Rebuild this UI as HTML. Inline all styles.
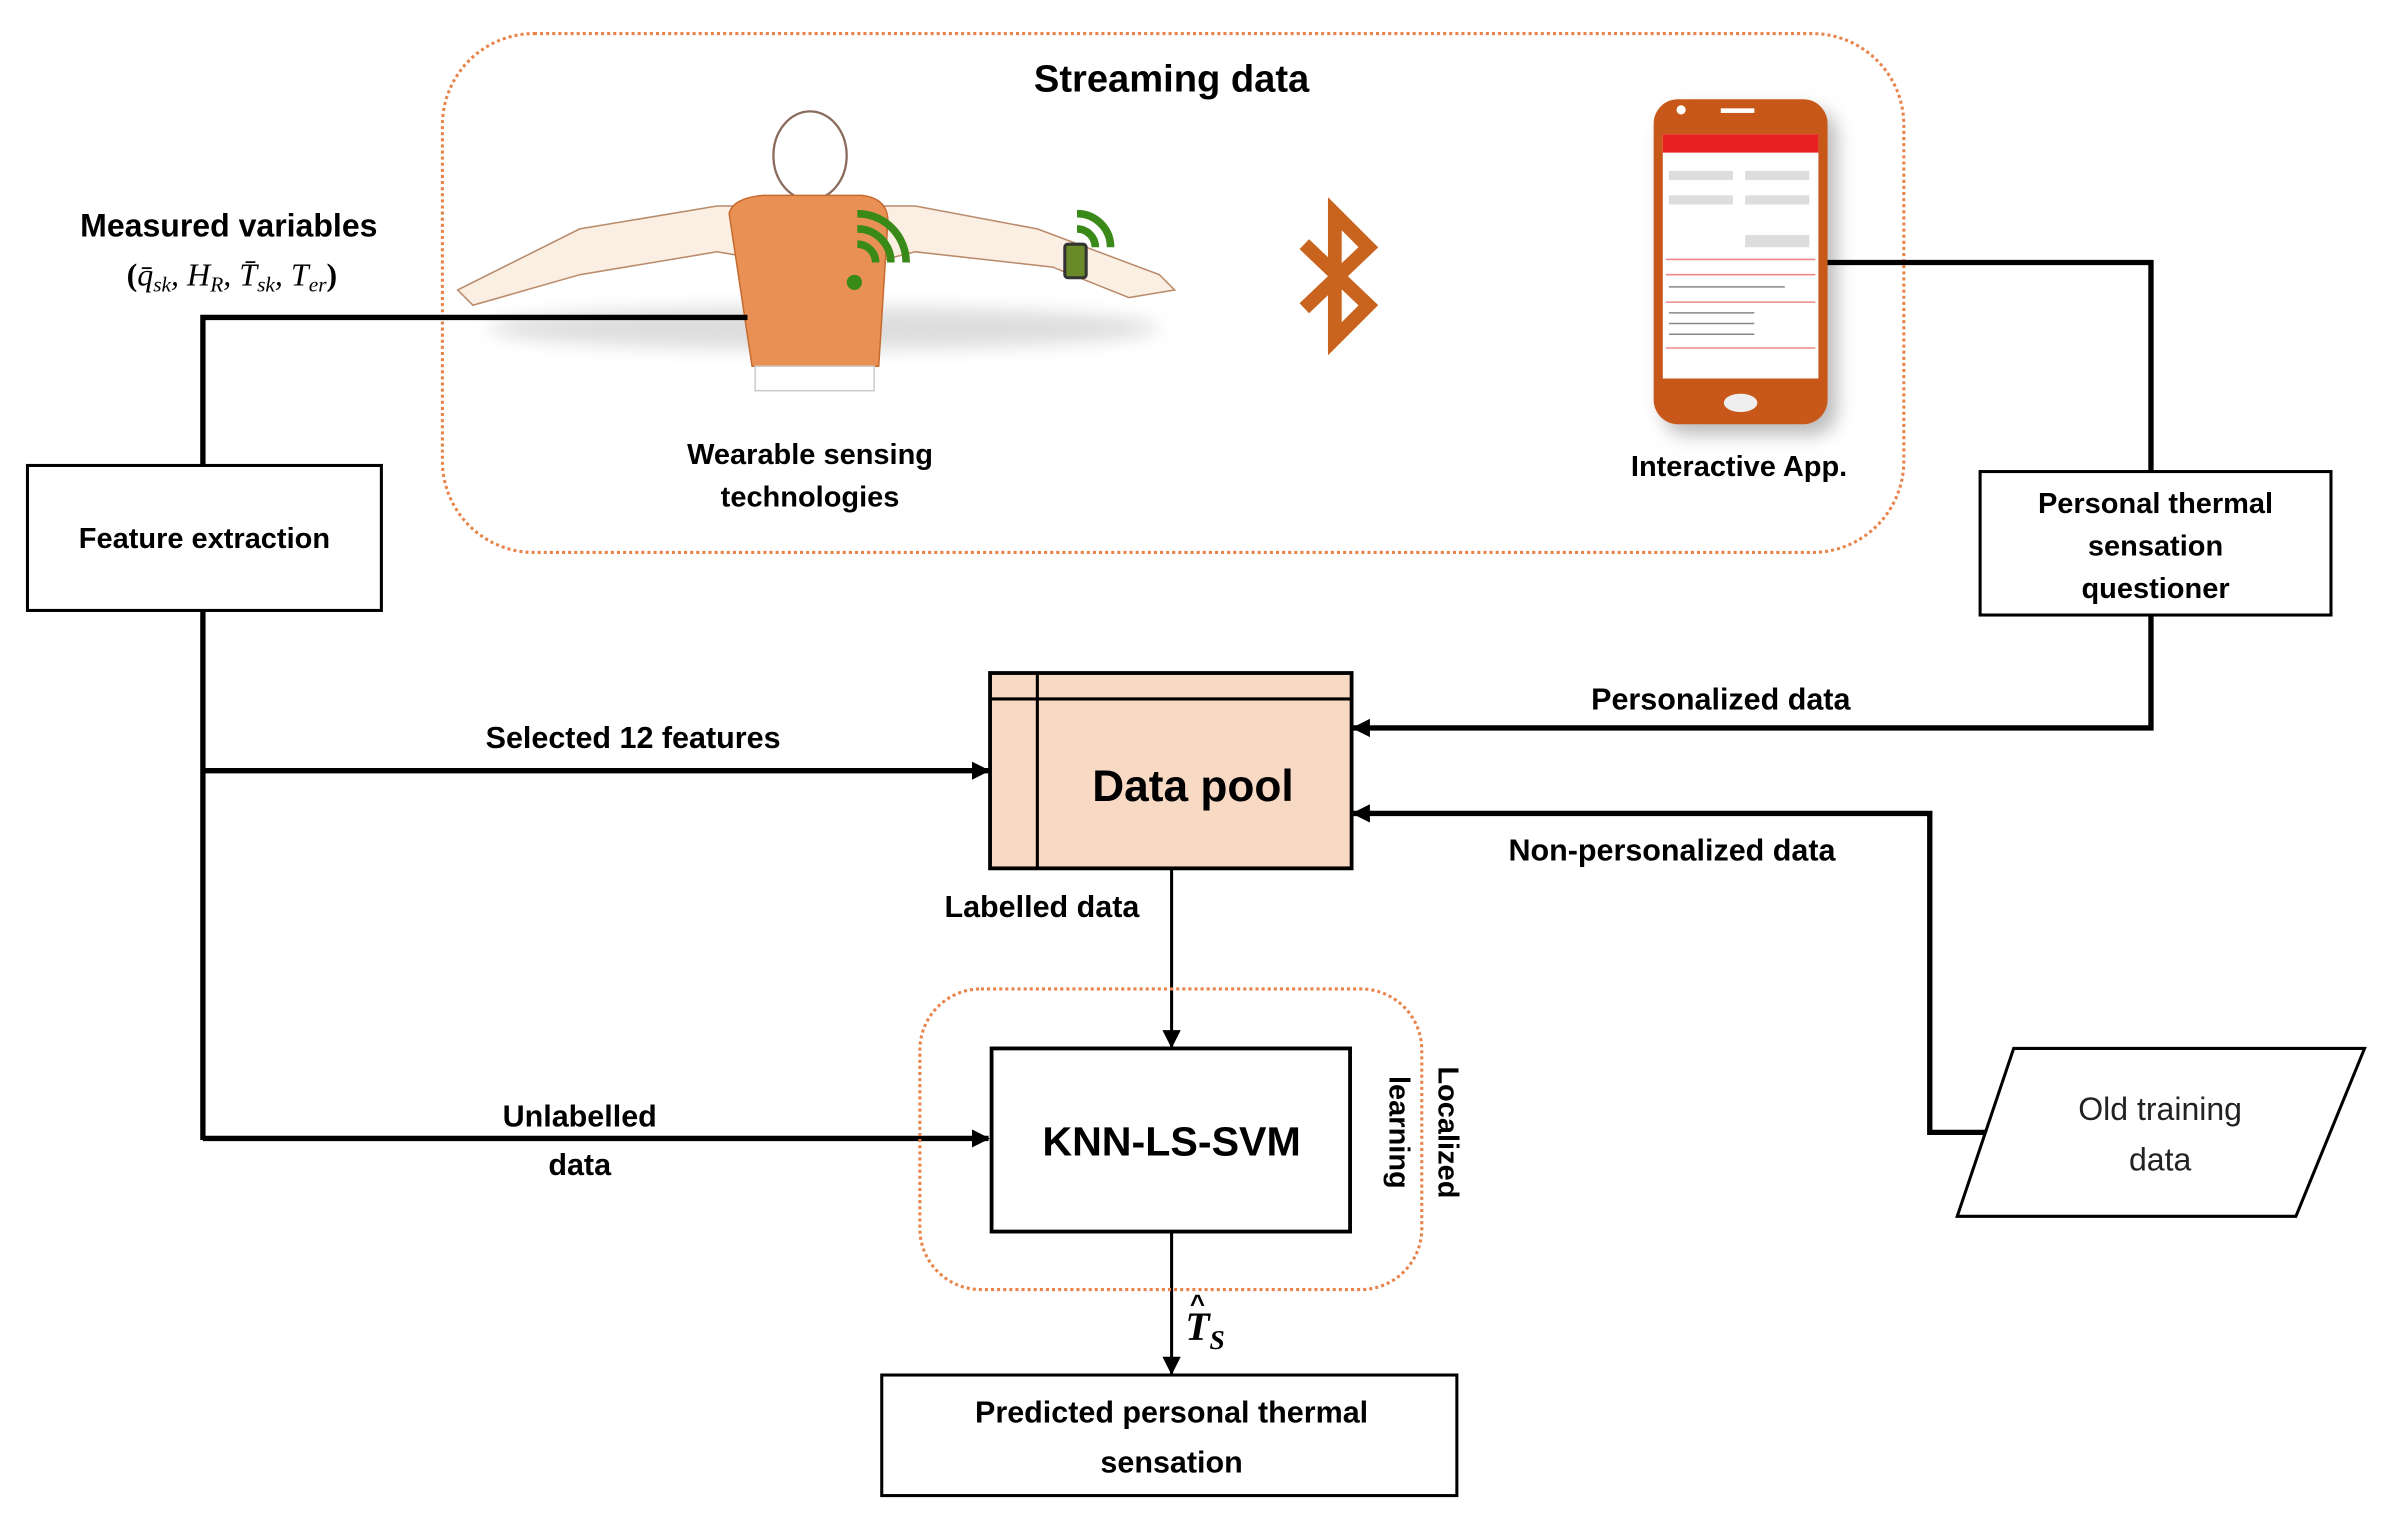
<!DOCTYPE html>
<html><head><meta charset="utf-8"><style>html,body{margin:0;padding:0;background:#fff}svg{display:block}</style></head>
<body>
<svg width="2392" height="1520" viewBox="0 0 1568 996" preserveAspectRatio="none" xmlns="http://www.w3.org/2000/svg" font-family="Liberation Sans, sans-serif">
<defs>
<marker id="ah" markerWidth="12" markerHeight="12" refX="11" refY="6" orient="auto" markerUnits="userSpaceOnUse"><path d="M0,0 L12,6 L0,12 Z" fill="#000"/></marker>
<filter id="sh" x="-30%" y="-30%" width="160%" height="160%"><feGaussianBlur stdDeviation="6"/></filter>
</defs>
<rect width="1568" height="996" fill="#fff"/>
<rect x="290" y="22" width="958" height="340" rx="60" fill="none" stroke="#e8834a" stroke-width="2" stroke-dasharray="2,2"/>
<text x="768" y="60" font-size="25" font-weight="bold" text-anchor="middle">Streaming data</text>
<g>
<ellipse cx="540" cy="215" rx="220" ry="14" fill="#ddd" filter="url(#sh)"/>
<path d="M300,190 L380,150 L470,135 L490,135 L580,135 L600,135 L680,150 L760,180 L770,190 L740,195 L690,175 L600,165 L580,170 L500,170 L470,165 L380,180 L310,200 Z" fill="#fbeee2" stroke="#b98a6a" stroke-width="1"/>
<ellipse cx="531" cy="102" rx="24" ry="29" fill="#fff" stroke="#8a6a5a" stroke-width="1.5"/>
<path d="M478,140 Q480,130 500,128 L565,128 Q582,130 582,145 L576,240 L493,240 Z" fill="#e99155" stroke="#c66b30"/>
<rect x="495" y="240" width="78" height="16" fill="#fff" stroke="#ccc"/>
<path d="M560,180 a5,5 0 1 0 0.1,0" fill="#3a8a1a"/>
<path d="M566,168 a12,12 0 0 1 12,12 M566,158 a22,22 0 0 1 22,22 M566,148 a32,32 0 0 1 32,32" fill="none" stroke="#3a8a1a" stroke-width="5" transform="translate(-4,-8)"/>
<rect x="698" y="160" width="14" height="22" rx="2" fill="#6a8a2a" stroke="#333" stroke-width="2"/>
<path d="M706,150 a12,12 0 0 1 12,12 M706,140 a22,22 0 0 1 22,22" fill="none" stroke="#3a8a1a" stroke-width="5"/>
</g>
<text x="531" y="304" font-size="19" font-weight="bold" text-anchor="middle">Wearable sensing</text>
<text x="531" y="332" font-size="19" font-weight="bold" text-anchor="middle">technologies</text>
<path d="M855,160 L897,200 L875,222 L875,140 L897,162 L855,202" fill="none" stroke="#c8641e" stroke-width="9" stroke-linejoin="miter"/>
<rect x="1090" y="72" width="114" height="213" rx="16" fill="#bbb" filter="url(#sh)"/>
<rect x="1084" y="65" width="114" height="213" rx="16" fill="#c8581a"/>
<rect x="1090" y="88" width="102" height="160" fill="#fff"/>
<rect x="1090" y="88" width="102" height="12" fill="#e82020"/>
<g fill="#ddd"><rect x="1094" y="112" width="42" height="6"/><rect x="1144" y="112" width="42" height="6"/><rect x="1094" y="128" width="42" height="6"/><rect x="1144" y="128" width="42" height="6"/><rect x="1144" y="154" width="42" height="8"/></g>
<g stroke="#e88" stroke-width="1"><line x1="1092" y1="170" x2="1190" y2="170"/><line x1="1092" y1="180" x2="1190" y2="180"/><line x1="1092" y1="198" x2="1190" y2="198"/><line x1="1092" y1="228" x2="1190" y2="228"/></g>
<g stroke="#888" stroke-width="1"><line x1="1094" y1="188" x2="1170" y2="188"/><line x1="1094" y1="205" x2="1150" y2="205"/><line x1="1094" y1="212" x2="1150" y2="212"/><line x1="1094" y1="219" x2="1150" y2="219"/></g>
<ellipse cx="1141" cy="264" rx="11" ry="6" fill="#eee"/>
<circle cx="1102" cy="72" r="3" fill="#fff"/><rect x="1128" y="71" width="22" height="3" fill="#fff"/>
<text x="1140" y="312" font-size="19" font-weight="bold" text-anchor="middle">Interactive App.</text>
<text x="150" y="155" font-size="21" font-weight="bold" text-anchor="middle">Measured variables</text>
<text x="152" y="187" font-size="21" font-family="Liberation Serif, serif" font-style="italic" text-anchor="middle"><tspan font-weight="bold" font-style="normal">(</tspan>q̄<tspan font-size="14" dy="4">sk</tspan><tspan dy="-4">, H</tspan><tspan font-size="14" dy="4">R</tspan><tspan dy="-4">, T̄</tspan><tspan font-size="14" dy="4">sk</tspan><tspan dy="-4">, T</tspan><tspan font-size="14" dy="4">er</tspan><tspan dy="-4" font-weight="bold" font-style="normal">)</tspan></text>
<g stroke="#000" stroke-width="3.5" fill="none">
<polyline points="133,305 133,208 490,208"/>
<line x1="133" y1="400" x2="133" y2="747"/>
<line x1="133" y1="505" x2="648" y2="505" marker-end="url(#ah)"/>
<line x1="133" y1="746" x2="648" y2="746" marker-end="url(#ah)"/>
<polyline points="1198,172 1410,172 1410,309"/>
<polyline points="1410,403 1410,477 887,477" marker-end="url(#ah)"/>
<polyline points="1312,742 1265,742 1265,533 887,533" marker-end="url(#ah)"/>
</g>
<g stroke="#000" stroke-width="2" fill="none">
<line x1="768" y1="569" x2="768" y2="686" marker-end="url(#ah)"/>
<line x1="768" y1="807" x2="768" y2="900" marker-end="url(#ah)"/>
</g>
<rect x="18" y="305" width="232" height="95" fill="#fff" stroke="#000" stroke-width="2"/>
<text x="134" y="359" font-size="19" font-weight="bold" text-anchor="middle">Feature extraction</text>
<rect x="1298" y="309" width="230" height="94" fill="#fff" stroke="#000" stroke-width="2"/>
<text x="1413" y="336" font-size="19" font-weight="bold" text-anchor="middle">Personal thermal</text>
<text x="1413" y="364" font-size="19" font-weight="bold" text-anchor="middle">sensation</text>
<text x="1413" y="392" font-size="19" font-weight="bold" text-anchor="middle">questioner</text>
<rect x="649" y="441" width="237" height="128" fill="#f8d9c4" stroke="#000" stroke-width="2.5"/>
<line x1="680" y1="441" x2="680" y2="569" stroke="#000" stroke-width="2"/>
<line x1="649" y1="458" x2="886" y2="458" stroke="#000" stroke-width="2"/>
<text x="782" y="525" font-size="29" font-weight="bold" text-anchor="middle">Data pool</text>
<text x="415" y="490" font-size="20" font-weight="bold" text-anchor="middle">Selected 12 features</text>
<text x="1128" y="465" font-size="20" font-weight="bold" text-anchor="middle">Personalized data</text>
<text x="1096" y="564" font-size="20" font-weight="bold" text-anchor="middle">Non-personalized  data</text>
<text x="683" y="601" font-size="20" font-weight="bold" text-anchor="middle">Labelled data</text>
<polygon points="1320,687 1550,687 1505,797 1283,797" fill="#fff" stroke="#000" stroke-width="2"/>
<text x="1416" y="734" font-size="21" text-anchor="middle" fill="#222">Old training</text>
<text x="1416" y="767" font-size="21" text-anchor="middle" fill="#222">data</text>
<rect x="603" y="648" width="329" height="197" rx="40" fill="none" stroke="#e8834a" stroke-width="2" stroke-dasharray="2,2"/>
<rect x="650" y="687" width="235" height="120" fill="#fff" stroke="#000" stroke-width="2.5"/>
<text x="768" y="757" font-size="27" font-weight="bold" text-anchor="middle">KNN-LS-SVM</text>
<text transform="translate(943,742) rotate(90)" font-size="19" font-weight="bold" text-anchor="middle">Localized</text>
<text transform="translate(911,742) rotate(90)" font-size="19" font-weight="bold" text-anchor="middle">learning</text>
<text x="380" y="738" font-size="20" font-weight="bold" text-anchor="middle">Unlabelled</text>
<text x="380" y="770" font-size="20" font-weight="bold" text-anchor="middle">data</text>
<text x="777" y="878" font-size="26" font-weight="bold" font-style="italic" font-family="Liberation Serif, serif">T<tspan font-size="18" dy="6">S</tspan></text>
<text x="780" y="860" font-size="17" font-weight="bold">^</text>
<rect x="578" y="901" width="377" height="79" fill="#fff" stroke="#000" stroke-width="2"/>
<text x="768" y="932" font-size="20" font-weight="bold" text-anchor="middle">Predicted personal thermal</text>
<text x="768" y="965" font-size="20" font-weight="bold" text-anchor="middle">sensation</text>
</svg>
</body></html>
